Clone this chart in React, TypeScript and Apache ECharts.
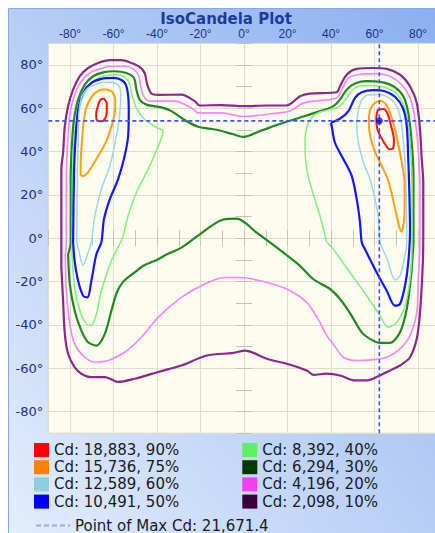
import React, { useEffect, useRef } from 'react';
import * as echarts from 'echarts';

// ---- values ----
const axisMin = -90;
const axisMax = 90;
const levelLabels = [
  'Cd: 18,883, 90%',
  'Cd: 15,736, 75%',
  'Cd: 12,589, 60%',
  'Cd: 10,491, 50%',
  'Cd: 8,392, 40%',
  'Cd: 6,294, 30%',
  'Cd: 4,196, 20%',
  'Cd: 2,098, 10%',
];
const maxLabel = 'Point of Max Cd: 21,671.4';
const maxPoint = [62.2, 54.2];

// contour loops, [horizontal angle, vertical angle]
const red90Left = [[-64.6,64.6],[-63.1,62.3],[-63.1,58.5],[-63.8,55.4],[-65.4,54.0],[-67.7,54.6],[-68.0,57.7],[-67.2,61.0],[-66.2,63.8]];
const red90Right = [[61.5,59.5],[64.3,59.7],[66.2,56.9],[67.7,51.5],[68.9,45.4],[68.5,41.5],[66.9,41.1],[64.6,43.8],[62.8,46.9],[61.2,50.8],[60.8,55.4]];
const orange75Left = [[-63.8,68.8],[-60.8,67.7],[-59.2,63.8],[-59.5,57.7],[-61.2,50.8],[-63.8,43.8],[-67.7,36.9],[-71.5,30.8],[-73.8,28.8],[-75.1,29.2],[-75.1,34.6],[-74.6,43.8],[-73.8,53.1],[-72.6,60.0],[-70.0,65.4],[-66.9,68.2]];
const orange75Right = [[59.2,61.5],[62.3,63.5],[64.9,62.3],[66.9,58.5],[68.9,52.3],[70.8,43.8],[72.6,34.6],[73.8,25.4],[73.8,16.2],[73.4,6.9],[72.3,3.1],[71.1,6.2],[68.9,16.2],[66.2,26.9],[63.1,33.8],[60.0,40.5],[58.2,46.2],[57.4,52.3],[57.7,58.5]];
const lightBlue60Left = [[-76.9,-1.8],[-76.6,28.8],[-76.3,44.1],[-76.0,56.4],[-74.8,64.8],[-71.7,69.4],[-67.1,71.4],[-63.3,72.0],[-58.7,71.4],[-56.7,67.9],[-57.2,56.4],[-58.7,47.2],[-61.7,33.4],[-65.6,22.7],[-68.6,10.4],[-70.2,-1.8],[-72.0,-7.4],[-74.0,-12.5],[-76.0,-5.8]];
const lightBlue60Right = [[54.1,64.0],[57.2,66.3],[62.5,66.3],[67.9,63.8],[71.4,57.9],[73.2,45.7],[74.3,28.8],[74.8,-1.8],[74.0,-8.1],[71.7,-17.3],[69.4,-19.2],[65.9,-9.7],[62.5,-1.8],[61.8,8.9],[60.2,18.1],[57.9,27.3],[54.9,34.9],[52.6,44.1],[51.8,51.8],[52.6,59.4]];
const blue50Left = [[-78.6,-1.8],[-78.2,28.8],[-77.6,44.1],[-76.3,59.4],[-74.0,67.1],[-70.2,71.7],[-65.6,73.6],[-60.2,74.0],[-55.6,72.5],[-53.7,68.6],[-53.0,59.4],[-53.3,47.2],[-54.9,38.0],[-57.9,27.3],[-61.7,18.1],[-64.4,8.9],[-65.6,-1.8],[-67.9,-7.4],[-70.2,-19.6],[-72.0,-27.3],[-74.0,-26.5],[-76.3,-19.6],[-77.9,-10.4]];
const blue50Right = [[39.9,53.3],[44.1,55.2],[48.0,58.7],[51.0,64.8],[54.1,67.4],[59.4,68.4],[64.8,67.9],[69.4,65.3],[73.0,60.2],[74.8,51.8],[75.5,36.5],[76.0,21.1],[76.3,4.0],[75.5,-11.2],[74.0,-21.9],[71.7,-30.3],[69.4,-31.1],[65.6,-24.2],[61.0,-15.8],[55.6,-5.1],[54.1,-1.8],[53.3,7.4],[51.8,18.1],[49.5,28.8],[45.7,36.5],[41.8,44.1],[40.3,51.8]];
const lightGreen40Left = [[-79.1,-7.4],[-79.0,10.0],[-78.8,30.0],[-78.2,45.0],[-77.0,55.0],[-75.0,63.0],[-72.0,69.5],[-68.5,73.0],[-64.0,75.0],[-59.5,75.5],[-55.0,74.5],[-52.5,71.0],[-51.8,67.1],[-49.5,60.2],[-45.7,54.8],[-40.0,51.0],[-37.2,49.5],[-38.8,44.1],[-44.1,31.9],[-49.5,21.1],[-53.3,10.4],[-56.0,0.0],[-61.0,-10.4],[-65.6,-24.2],[-67.9,-34.9],[-70.2,-40.3],[-72.5,-39.5],[-75.5,-33.4],[-77.9,-22.7]];
const lightGreen40Right = [[38.0,-1.8],[34.9,10.3],[31.1,22.7],[28.8,31.9],[28.0,44.1],[29.6,53.3],[33.4,57.6],[39.5,59.4],[44.1,61.0],[47.2,64.8],[51.0,69.4],[56.4,70.5],[62.5,70.2],[68.6,67.9],[72.5,63.3],[74.8,56.4],[76.3,44.1],[77.1,28.8],[77.3,4.0],[77.2,-5.1],[76.3,-18.9],[74.0,-31.1],[70.2,-38.8],[66.4,-41.1],[62.5,-35.7],[56.4,-26.5],[48.7,-15.8],[41.1,-5.1]];
const darkGreen30 = [[-80.9,-7.4],[-79.7,-1.8],[-79.7,28.8],[-79.1,44.1],[-78.2,54.8],[-76.3,64.0],[-73.2,70.9],[-69.4,74.8],[-64.8,76.6],[-59.4,77.1],[-54.1,76.3],[-50.6,74.0],[-49.5,68.6],[-48.0,64.0],[-44.9,61.7],[-38.0,60.4],[-33.4,58.7],[-27.5,54.7],[-21.1,51.5],[-12.6,50.1],[-5.0,48.0],[-0.3,46.8],[7.4,49.5],[18.1,53.3],[28.8,56.7],[34.9,58.7],[41.1,61.0],[44.1,64.0],[47.2,68.6],[51.0,71.4],[56.4,72.5],[62.5,72.2],[68.6,70.2],[73.2,65.6],[75.5,57.9],[77.1,44.1],[77.9,28.8],[77.9,-1.8],[77.5,-8.0],[76.8,-17.3],[74.8,-32.6],[71.7,-43.4],[67.1,-48.3],[62.5,-48.3],[57.9,-46.4],[54.1,-43.4],[48.7,-34.5],[44.1,-28.0],[39.5,-23.4],[31.9,-18.9],[25.7,-12.7],[18.1,-6.6],[5.8,2.6],[-3.4,9.1],[-9.5,8.7],[-21.5,1.0],[-28.8,-4.3],[-35.5,-7.4],[-39.5,-9.7],[-46.3,-12.7],[-50.0,-15.5],[-55.5,-20.0],[-58.5,-25.0],[-61.0,-33.4],[-64.0,-44.1],[-67.9,-49.5],[-71.7,-48.0],[-74.8,-42.6],[-77.9,-33.4],[-80.1,-21.1]];
const pink20 = [[-82.2,-7.4],[-81.7,-1.8],[-81.7,28.8],[-80.9,47.2],[-79.7,59.4],[-77.6,67.1],[-74.8,72.5],[-70.9,76.3],[-66.3,78.2],[-61.0,79.4],[-54.9,79.4],[-51.0,78.2],[-48.4,74.8],[-47.2,68.6],[-45.7,64.8],[-43.4,63.3],[-31.9,63.3],[-24.2,60.2],[-21.1,57.9],[-10.4,57.9],[-0.3,56.2],[13.5,57.6],[21.1,58.7],[27.3,62.5],[42.6,64.8],[44.9,68.6],[48.0,74.0],[52.6,75.5],[61.0,76.0],[67.1,74.8],[72.5,70.9],[76.3,64.8],[78.6,54.8],[80.1,41.1],[80.9,21.1],[80.9,-1.8],[80.1,-18.9],[79.4,-34.2],[76.3,-44.9],[71.7,-51.0],[65.6,-54.9],[59.4,-56.0],[51.8,-56.4],[45.7,-54.9],[41.1,-49.0],[38.0,-44.9],[34.9,-38.8],[28.8,-29.6],[19.6,-23.4],[7.4,-19.6],[-1.8,-18.1],[-8.9,-18.1],[-18.1,-21.1],[-28.8,-27.3],[-39.5,-36.5],[-47.2,-45.7],[-54.9,-52.6],[-62.5,-56.4],[-68.6,-57.1],[-73.2,-54.9],[-77.9,-48.7],[-80.1,-39.5],[-81.7,-24.2]];
const purple10 = [[-84.0,-13.5],[-84.0,-2.0],[-84.0,32.0],[-83.2,39.5],[-82.4,51.8],[-80.9,61.0],[-78.6,68.6],[-75.5,74.8],[-71.7,78.6],[-67.1,80.9],[-61.7,82.2],[-56.4,82.2],[-51.8,80.9],[-48.0,79.1],[-45.7,76.3],[-44.5,70.9],[-42.6,66.8],[-39.5,66.2],[-28.8,66.3],[-22.7,63.3],[-20.4,61.3],[-10.4,61.5],[0.0,61.0],[10.4,61.3],[19.6,61.3],[22.0,62.5],[25.7,65.6],[30.3,66.8],[42.6,67.4],[44.1,70.2],[47.2,75.5],[51.8,78.2],[59.4,78.6],[65.6,78.2],[71.7,75.5],[76.3,70.2],[79.4,62.5],[80.9,50.3],[81.7,36.5],[82.4,25.7],[82.4,4.0],[82.2,-11.2],[80.9,-34.2],[79.4,-46.4],[76.3,-54.9],[71.7,-58.7],[67.1,-61.0],[62.5,-63.3],[56.4,-65.6],[51.0,-65.6],[44.1,-63.3],[38.0,-62.5],[31.9,-63.0],[28.8,-61.0],[19.6,-57.9],[10.4,-55.6],[0.5,-51.8],[-4.9,-52.9],[-17.1,-54.1],[-28.8,-58.7],[-39.5,-61.7],[-50.3,-64.8],[-57.9,-66.3],[-64.0,-64.1],[-70.2,-64.1],[-74.8,-62.5],[-77.9,-59.5],[-80.9,-53.3],[-82.4,-44.1],[-83.2,-28.8]];

const levelLoops = [
  [red90Left, red90Right],
  [orange75Left, orange75Right],
  [lightBlue60Left, lightBlue60Right],
  [blue50Left, blue50Right],
  [lightGreen40Left, lightGreen40Right],
  [darkGreen30],
  [pink20],
  [purple10],
];

// ---- styles ----
const swatchColors = ['#ff0000', '#ff8000', '#8cd0e0', '#0000ff', '#5ef05e', '#003a00', '#f040f0', '#3a0038'];
const lineColors = ['#ff1010', '#ffa010', '#9ad8e4', '#1414ff', '#80ee80', '#21881f', '#f882f8', '#8c268c'];
const lineWidths = [2, 2, 1.5, 2.2, 1.5, 2.2, 1.6, 2.2];
const navy = '#1c2e8c';

function buildOption() {
  const series: any[] = [];
  for (let i = levelLoops.length - 1; i >= 0; i--) {
    levelLoops[i].forEach((loop) => {
      series.push({
        type: 'line',
        name: levelLabels[i],
        data: [...loop, loop[0]],
        symbol: 'none',
        showSymbol: false,
        smooth: 0.3,
        silent: true,
        lineStyle: { color: lineColors[i], width: lineWidths[i] },
        itemStyle: { color: swatchColors[i] },
        z: 3,
      });
    });
  }
  const crossStyle = { color: '#3f52f2', width: 1.6, type: [4, 3] };
  series.push({
    type: 'line', name: maxLabel, symbol: 'none', silent: true, z: 5,
    data: [[maxPoint[0], axisMin], [maxPoint[0], axisMax]],
    lineStyle: crossStyle, itemStyle: { color: 'rgba(0,0,0,0)' },
  });
  series.push({
    type: 'line', name: maxLabel, symbol: 'none', silent: true, z: 5,
    data: [[axisMin, maxPoint[1]], [axisMax, maxPoint[1]]],
    lineStyle: crossStyle, itemStyle: { color: 'rgba(0,0,0,0)' },
  });
  series.push({
    type: 'scatter', name: 'maxDot', data: [maxPoint], symbolSize: 7, silent: true, z: 6,
    itemStyle: { color: '#0a0aee' },
  });

  const labelFmt = (v: number) => `${v}\u00b0`;
  const mainAxis = (pos: string, font: any) => ({
    type: 'value', min: axisMin, max: axisMax, splitNumber: 9, position: pos,
    axisLine: { show: false, onZero: false },
    axisTick: { show: false },
    axisLabel: { formatter: labelFmt, showMinLabel: false, showMaxLabel: false, color: navy, ...font },
    splitLine: { show: true, lineStyle: { color: '#dcdccf', width: 1 } },
  });
  const crossAxis = (pos: string, inside: boolean) => ({
    type: 'value', min: axisMin, max: axisMax, interval: 10, position: pos,
    axisLine: { show: false, onZero: true, onZeroAxisIndex: 0 },
    axisTick: { show: true, inside, length: 8, lineStyle: { color: '#c2c2b6', width: 1 } },
    axisLabel: { show: false },
    splitLine: { show: false },
  });

  const legendText = { fontSize: 15, color: '#1a1a1a', fontFamily: 'DejaVu Sans' };
  const levelLegend = (names: string[], offset: number, left: number) => ({
    orient: 'vertical', left, top: 442.5, padding: 0, itemWidth: 15, itemHeight: 14, itemGap: 2.2,
    selectedMode: false, textStyle: legendText,
    data: names.map((n, k) => ({ name: n, icon: 'rect', itemStyle: { color: swatchColors[offset + k], borderWidth: 0 } })),
  });

  return {
    animation: false,
    backgroundColor: '#ffffff',
    graphic: [
      {
        type: 'rect', z: -100, silent: true,
        shape: { x: 8.5, y: 8.5, width: 440, height: 540 },
        style: {
          fill: new echarts.graphic.LinearGradient(0, 1, 1, 0, [
            { offset: 0, color: '#e4eefd' },
            { offset: 1, color: '#8aaeee' },
          ]),
          stroke: '#86a8ea', lineWidth: 1,
        },
      },
      {
        type: 'text', z: 100, silent: true, x: 226, y: 18.5,
        style: {
          text: 'IsoCandela Plot', fill: '#1d3b9a',
          font: 'bold 15px "DejaVu Sans"', textAlign: 'center', textVerticalAlign: 'middle',
        },
      },
    ],
    grid: {
      left: 48.3, top: 43.3, width: 391.5, height: 390,
      show: true, backgroundColor: '#fcfcee', borderColor: '#c9c9c0', borderWidth: 1,
      containLabel: false, outerBoundsMode: 'none',
    },
    xAxis: [
      mainAxis('top', { margin: 3, fontSize: 12, fontFamily: 'Liberation Sans' }),
      crossAxis('bottom', false),
      crossAxis('bottom', true),
    ],
    yAxis: [
      mainAxis('left', { margin: 5, fontSize: 13, fontFamily: 'DejaVu Sans' }),
      crossAxis('left', false),
      crossAxis('left', true),
    ],
    legend: [
      levelLegend(levelLabels.slice(0, 4), 0, 34),
      levelLegend(levelLabels.slice(4, 8), 4, 242.3),
      {
        orient: 'vertical', left: 35, top: 518, padding: 0, itemWidth: 34, itemHeight: 14,
        selectedMode: false, textStyle: legendText,
        itemStyle: { opacity: 0 },
        lineStyle: { color: '#a0a0ec', width: 2, type: [5, 3] },
        data: [{ name: maxLabel }],
      },
    ],
    series,
  };
}

export default function App() {
  const ref = useRef<HTMLDivElement>(null);
  useEffect(() => {
    if (!ref.current) return;
    const chart = echarts.init(ref.current, null, { renderer: 'svg' });
    chart.setOption(buildOption() as any);
    return () => chart.dispose();
  }, []);
  return (
    <div
      ref={ref}
      style={{ position: 'fixed', left: 0, top: 0, width: 435, height: 533 }}
    />
  );
}
